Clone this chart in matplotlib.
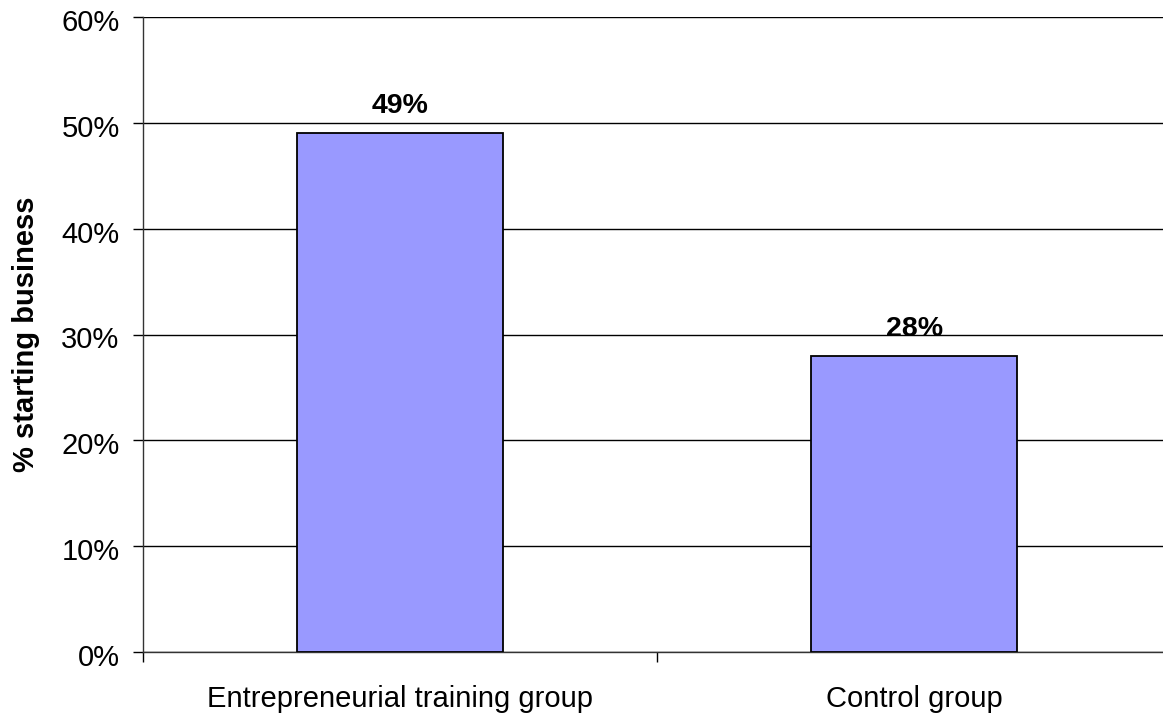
import matplotlib
matplotlib.use("Agg")
import matplotlib.pyplot as plt
from matplotlib.ticker import FixedLocator, PercentFormatter
from matplotlib.transforms import ScaledTranslation

categories = ["Entrepreneurial training group", "Control group"]
values = [49, 28]
y_ticks = [0, 10, 20, 30, 40, 50, 60]

plt.rcParams["font.family"] = ["Liberation Sans", "DejaVu Sans"]

fig = plt.figure(figsize=(11.63, 7.14), dpi=100)
ax = fig.add_axes([142.5 / 1163, 1 - 652 / 714, 1029 / 1163, 635 / 714])

x = range(len(categories))
ax.bar(x, values, width=0.4, color="#9999FF", edgecolor="black",
       linewidth=1.3, zorder=3)

for xi, v in zip(x, values):
    ax.annotate(f"{v}%", (xi, v), xytext=(0, 14.5), textcoords="offset points",
                ha="center", va="baseline", fontsize=20.5, fontweight="bold")

ax.set_xlim(-0.5, len(categories) - 0.5)
ax.set_ylim(0, 60)

ax.yaxis.set_major_locator(FixedLocator(y_ticks))
ax.yaxis.set_major_formatter(PercentFormatter(decimals=0))
ax.grid(axis="y", color="black", linewidth=1.0, zorder=0)

# boundaries between categories carry ticks, labels sit at bar centres
ax.xaxis.set_major_locator(FixedLocator([-0.5, 0.5, 1.5]))
ax.xaxis.set_major_formatter(plt.NullFormatter())
ax.xaxis.set_minor_locator(FixedLocator(list(x)))
ax.set_xticklabels(categories, minor=True)
ax.tick_params(axis="x", which="minor", length=0, pad=24, labelsize=21)
ax.tick_params(axis="x", which="major", length=7.5, width=1.0, direction="out")
ax.tick_params(axis="y", length=7.5, width=1.0, pad=9, labelsize=21)

# nudge the percentage labels slightly below their gridlines
shift = ScaledTranslation(0, -3 / 100, fig.dpi_scale_trans)
for lbl in ax.get_yticklabels():
    lbl.set_transform(lbl.get_transform() + shift)

for side in ("top", "right"):
    ax.spines[side].set_visible(False)
ax.spines["left"].set_linewidth(1.0)
ax.spines["bottom"].set_linewidth(1.0)
ax.spines["left"].set_color("#333333")
ax.spines["bottom"].set_color("#333333")

fig.text(26 / 1163, 1 - 334 / 714, "% starting business", rotation=90,
         ha="center", va="center", fontsize=21, fontweight="bold")

fig.savefig("out.png", dpi=100)
